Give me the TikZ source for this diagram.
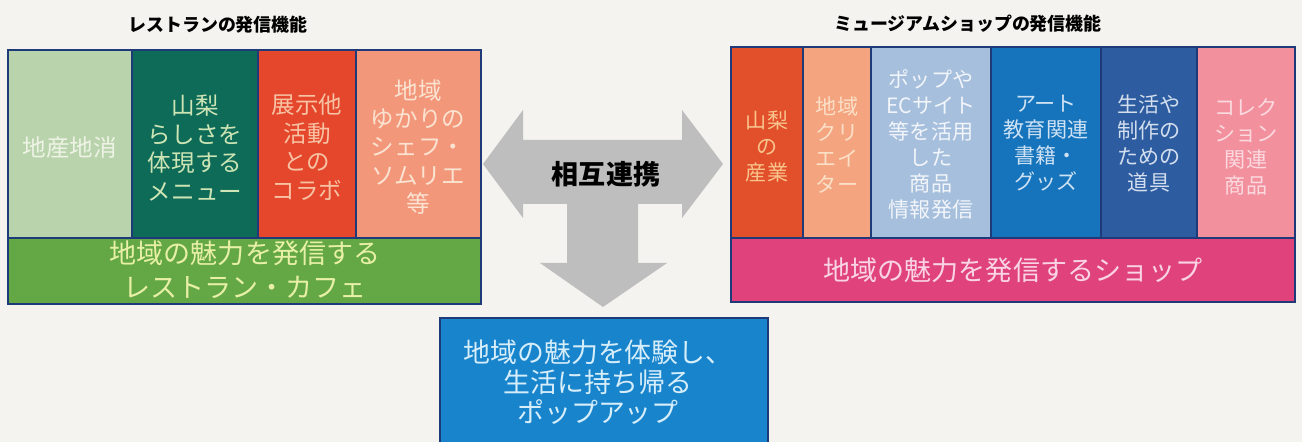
\documentclass[tikz,border=0pt]{standalone}
\usepackage{fontspec}
\setmainfont{Noto Sans CJK JP}

\definecolor{paper}{HTML}{F4F3EF}
\definecolor{framenavy}{HTML}{1F3A78}
\definecolor{sage}{HTML}{B9D4AC}
\definecolor{sagetext}{HTML}{EEF3E6}
\definecolor{deepteal}{HTML}{0E6B57}
\definecolor{tealtext}{HTML}{CDE5B5}
\definecolor{vermilion}{HTML}{E4472B}
\definecolor{vermiliontext}{HTML}{F8C2A4}
\definecolor{salmon}{HTML}{F3977A}
\definecolor{salmontext}{HTML}{FBE3D2}
\definecolor{leafgreen}{HTML}{63A844}
\definecolor{leaftext}{HTML}{E8F0A8}
\definecolor{rust}{HTML}{E2502B}
\definecolor{rusttext}{HTML}{F8C48C}
\definecolor{peach}{HTML}{F4A47F}
\definecolor{peachtext}{HTML}{FBE0C8}
\definecolor{mistblue}{HTML}{A6BFDC}
\definecolor{misttext}{HTML}{F2F5FA}
\definecolor{midblue}{HTML}{1674BC}
\definecolor{midbluetext}{HTML}{CFE2F4}
\definecolor{inkblue}{HTML}{2D5DA0}
\definecolor{inkbluetext}{HTML}{D3DEEE}
\definecolor{rose}{HTML}{F2909E}
\definecolor{rosetext}{HTML}{FBDADF}
\definecolor{magenta}{HTML}{E0437C}
\definecolor{magentatext}{HTML}{F9D4E2}
\definecolor{popblue}{HTML}{1884CC}
\definecolor{popbluetext}{HTML}{D6EDFA}
\definecolor{arrowgray}{HTML}{BEBEBE}

\tikzset{
  cell/.style={draw=framenavy, line width=0.7pt},
  celltext/.style={align=center, inner sep=0pt, font=\fontsize{13.4}{16.2}\selectfont},
  shoptext/.style={align=center, inner sep=0pt, font=\fontsize{12}{14.8}\selectfont},
  bartext/.style={align=center, inner sep=0pt, font=\fontsize{15.4}{19.3}\selectfont},
  headline/.style={inner sep=0pt, font=\bfseries\fontsize{10.2}{12}\selectfont},
}

\begin{document}
\begin{tikzpicture}[x=0.02cm, y=-0.02cm]
        \useasboundingbox[fill=paper] (0,0) rectangle (1302,442);

        % restaurant side
        \node[headline] (resttitle) at (218,25) {レストランの発信機能};
        \draw[cell, fill=sage] (8,50) rectangle (132,238);
        \draw[cell, fill=deepteal] (132,50) rectangle (258,238);
        \draw[cell, fill=vermilion] (258,50) rectangle (356,238);
        \draw[cell, fill=salmon] (356,50) rectangle (481,238);
        \draw[cell, fill=leafgreen] (8,238) rectangle (481,304);
        \node[celltext, text=sagetext] (rest1) at (70,148) {地産地消};
        \node[celltext, text=tealtext] (rest2) at (195,148) {山梨\\らしさを\\体現する\\メニュー};
        \node[celltext, text=vermiliontext] (rest3) at (307,147) {展示他\\活動\\との\\コラボ};
        \node[celltext, text=salmontext] (rest4) at (418,147) {地域\\ゆかりの\\シェフ・\\ソムリエ\\等};
        \node[bartext, text=leaftext] (restbar) at (245,270) {地域の魅力を発信する\\レストラン・カフェ};

        % museum shop side
        \node[headline] (shoptitle) at (968,24) {ミュージアムショップの発信機能};
        \draw[cell, fill=rust] (731,47) rectangle (803,238);
        \draw[cell, fill=peach] (803,47) rectangle (871,238);
        \draw[cell, fill=mistblue] (871,47) rectangle (991,238);
        \draw[cell, fill=midblue] (991,47) rectangle (1101,238);
        \draw[cell, fill=inkblue] (1101,47) rectangle (1197,238);
        \draw[cell, fill=rose] (1197,47) rectangle (1295,238);
        \draw[cell, fill=magenta] (731,238) rectangle (1295,302);
        \node[shoptext, text=rusttext] (shop1) at (767,147) {山梨\\の\\産業};
        \node[shoptext, text=peachtext] (shop2) at (837,145) {地域\\クリ\\エイ\\ター};
        \node[shoptext, text=misttext] (shop3) at (931,144) {ポップや\\ECサイト\\等を活用\\した\\商品\\情報発信};
        \node[shoptext, text=midbluetext] (shop4) at (1046,143) {アート\\教育関連\\書籍・\\グッズ};
        \node[shoptext, text=inkbluetext] (shop5) at (1149,143) {生活や\\制作の\\ための\\道具};
        \node[shoptext, text=rosetext] (shop6) at (1246,147) {コレク\\ション\\関連\\商品};
        \node[bartext, text=magentatext] (shopbar) at (1013,270) {地域の魅力を発信するショップ};

        % T-shaped arrow
        \fill[arrowgray] (483,164) -- (523,110) -- (523,140) -- (682,140) -- (682,110)
            -- (723,164) -- (682,218) -- (682,204) -- (638,204) -- (638,263) -- (667,263)
            -- (603,307) -- (540,263) -- (567,263) -- (567,204) -- (523,204) -- (523,218) -- cycle;
        \node[inner sep=0pt, font=\bfseries\fontsize{15.4}{18}\selectfont] (linkage) at (606,174) {相互連携};

        % pop-up
        \draw[cell, fill=popblue] (440,318) rectangle (768,446);
        \node[align=center, inner sep=0pt, text=popbluetext, font=\fontsize{15.3}{17.2}\selectfont] (popup) at (598,382)
            {地域の魅力を体験し、\\生活に持ち帰る\\ポップアップ};

\end{tikzpicture}
\end{document}
